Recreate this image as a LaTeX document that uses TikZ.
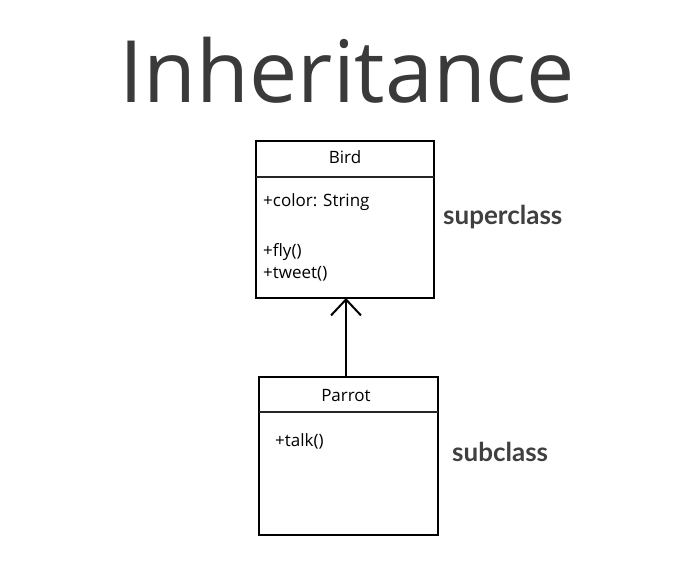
\documentclass[tikz,border=0pt]{standalone}
\usepackage{fontspec}
\setmainfont{Open Sans}
\newfontfamily\titlefont{Open Sans}
\newfontfamily\labfont{Lato}
\usetikzlibrary{arrows.meta}
\definecolor{titlegray}{HTML}{3A3A3A}
\definecolor{labgray}{HTML}{404040}
\tikzset{
  boxline/.style={draw=black, line width=2pt},
  divline/.style={draw=black!85, line width=1.3pt},
  membertext/.style={anchor=base west, inner sep=0pt, font=\fontsize{17}{20}\selectfont},
  headtext/.style={anchor=base, inner sep=0pt, font=\fontsize{17}{20}\selectfont},
  sidelabel/.style={anchor=base west, inner sep=0pt, text=labgray, font=\labfont\bfseries\fontsize{26}{28}\selectfont},
  inherit/.style={draw=black, line width=2pt, -{Straight Barb[length=16pt,width=30pt,line width=2pt]}}
}
\begin{document}
\begin{tikzpicture}[x=1pt,y=-1pt]
\useasboundingbox[fill=white] (0,0) rectangle (696,564);
% title
\node[anchor=base, inner sep=0pt, text=titlegray] (title) at (347.5,103)
  {\resizebox{455pt}{!}{\titlefont Inheritance}};
% Bird class
\coordinate (b1) at (256,141);
\coordinate (b2) at (434,298);
\draw[boxline] (b1) rectangle (b2);
\coordinate (bdl) at (256,177);
\coordinate (bdr) at (434,177);
\draw[divline] (bdl) -- (bdr);
\node[headtext] (birdname) at (345,164) {Bird};
\node[membertext] (bcolor) at (263,207) {+color: String};
\node[membertext] (bfly) at (263,256) {+fly()};
\node[membertext] (btweet) at (263,278) {+tweet()};
% Parrot class
\coordinate (p1) at (259,377);
\coordinate (p2) at (438,535);
\draw[boxline] (p1) rectangle (p2);
\coordinate (pdl) at (259,412);
\coordinate (pdr) at (438,412);
\draw[divline] (pdl) -- (pdr);
\node[headtext] (parrotname) at (346,401) {Parrot};
\node[membertext] (ptalk) at (275,446) {+talk()};
% arrow
\coordinate (ptop) at (346,377);
\coordinate (bbot) at (346,298);
\draw[inherit] (ptop) -- (bbot);
% labels
\node[sidelabel] (super) at (443,225) {superclass};
\node[sidelabel] (sub) at (452,461) {subclass};
\end{tikzpicture}
\end{document}
